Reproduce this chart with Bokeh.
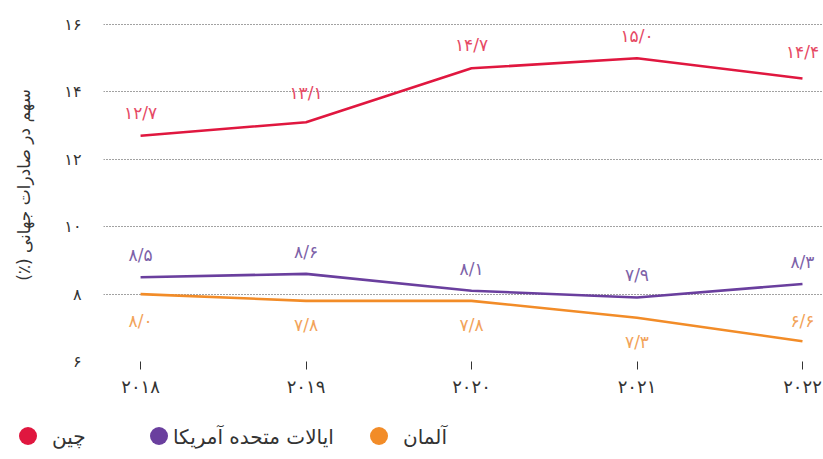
from bokeh.plotting import figure
from bokeh.models import ColumnDataSource, Range1d, FixedTicker, Div
from bokeh.layouts import column
from bokeh.core.properties import value
from bokeh.embed import file_html
from bokeh.resources import INLINE

# ---- data ----
years = [2018, 2019, 2020, 2021, 2022]
year_labels = ["۲۰۱۸", "۲۰۱۹", "۲۰۲۰", "۲۰۲۱", "۲۰۲۲"]
china = [12.7, 13.1, 14.7, 15.0, 14.4]
usa = [8.5, 8.6, 8.1, 7.9, 8.3]
germany = [8.0, 7.8, 7.8, 7.3, 6.6]
china_labels = ["۱۲/۷", "۱۳/۱", "۱۴/۷", "۱۵/۰", "۱۴/۴"]
usa_labels = ["۸/۵", "۸/۶", "۸/۱", "۷/۹", "۸/۳"]
germany_labels = ["۸/۰", "۷/۸", "۷/۸", "۷/۳", "۶/۶"]
y_ticks = [6, 8, 10, 12, 14, 16]
y_tick_labels = ["۶", "۸", "۱۰", "۱۲", "۱۴", "۱۶"]
series_names = ["چین", "ایالات متحده آمریکا", "آلمان"]
y_title = "سهم در صادرات جهانی (٪)"

# ---- styles ----
FONT = "DejaVu Sans"
RLM = "\u200f"
line_colors = ["#e0173f", "#6a3f9e", "#f28c28"]
label_colors = ["#e64a65", "#7d62a8", "#f2a35a"]
label_offsets = [[-23, -29, -23, -22, -26],
                 [-22, -22, -22, -22, -22],
                 [27, 24, 24, 24, -20]]
swatch_left = [19, 150, 370]
text_left = [52, 173, 403]

p = figure(width=823, height=400, output_backend="svg", toolbar_location=None,
           x_range=Range1d(2017.776, 2022.127), y_range=Range1d(6, 16.475),
           min_border_left=103, min_border_right=0, min_border_top=8,
           min_border_bottom=39)
p.outline_line_color = None
p.background_fill_color = "white"
p.border_fill_color = "white"

p.xgrid.grid_line_color = None
p.ygrid.grid_line_color = "#444444"
p.ygrid.grid_line_dash = "1 2"
p.ygrid.grid_line_width = 1.2

p.yaxis.ticker = FixedTicker(ticks=y_ticks)
p.yaxis.major_label_overrides = {t: l for t, l in zip(y_ticks, y_tick_labels)}
p.yaxis.axis_line_color = None
p.yaxis.major_tick_line_color = None
p.yaxis.minor_tick_line_color = None
p.yaxis.major_label_standoff = 16
p.yaxis.major_label_text_font = FONT
p.yaxis.major_label_text_font_size = "16px"
p.yaxis.major_label_text_color = "#333333"
p.yaxis.axis_label = RLM + y_title + RLM
p.yaxis.axis_label_text_font = FONT
p.yaxis.axis_label_text_font_size = "17px"
p.yaxis.axis_label_text_font_style = "normal"
p.yaxis.axis_label_text_color = "#333333"
p.yaxis.axis_label_standoff = 27

p.xaxis.ticker = FixedTicker(ticks=years)
p.xaxis.major_label_overrides = {y: l for y, l in zip(years, year_labels)}
p.xaxis.axis_line_color = None
p.xaxis.major_tick_line_color = "#333333"
p.xaxis.major_tick_in = 0
p.xaxis.major_tick_out = 8
p.xaxis.minor_tick_line_color = None
p.xaxis.major_label_standoff = 6
p.xaxis.major_label_text_font = FONT
p.xaxis.major_label_text_font_size = "18px"
p.xaxis.major_label_text_color = "#333333"

for vals, labs, lc, tc, offs in zip([china, usa, germany],
                                    [china_labels, usa_labels, germany_labels],
                                    line_colors, label_colors, label_offsets):
    src = ColumnDataSource(dict(x=years, y=vals, t=labs, off=offs))
    p.line("x", "y", source=src, line_color=lc, line_width=2.6)
    p.text("x", "y", text="t", source=src, y_offset="off", text_color=tc,
           text_font=value(FONT), text_font_size="17px",
           text_align="center", text_baseline="middle")

# ---- legend row (HTML) ----
parts = []
for name, c, sl, tl in zip(series_names, line_colors, swatch_left, text_left):
    parts.append(
        f'<span style="position:absolute;left:{sl}px;top:27px;width:18px;'
        f'height:18px;border-radius:50%;background:{c};"></span>'
        f'<span dir="rtl" style="position:absolute;left:{tl}px;top:24px;'
        f'line-height:26px;white-space:nowrap;">{name}</span>')
legend_html = ('<div style="position:relative;width:823px;height:59px;'
               f'font-family:\'{FONT}\';font-size:20px;color:#333333;">'
               + "".join(parts) + '</div>')
leg = Div(text=legend_html, width=823, height=59, margin=0)

layout = column(p, leg, spacing=0)
open("out.html", "w").write(file_html(layout, INLINE))
